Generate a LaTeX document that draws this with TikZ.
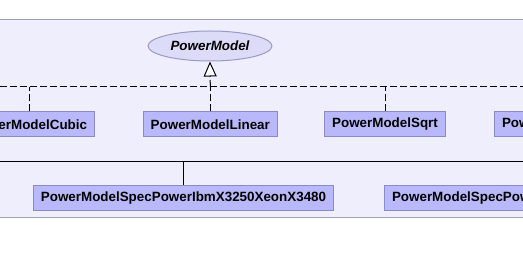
\documentclass[tikz,border=0pt]{standalone}
\usepackage{fontspec}
\setmainfont{Liberation Sans}
\usetikzlibrary{shapes.geometric,arrows.meta}

\definecolor{panelfill}{HTML}{EEEEFC}
\definecolor{panelline}{HTML}{A0A0B8}
\definecolor{boxfill}{HTML}{B8B8FA}
\definecolor{boxline}{HTML}{8A8AC8}
\definecolor{ifacefill}{HTML}{DCDCF8}
\definecolor{ifaceline}{HTML}{9A9AC8}

\newcommand{\classfont}{\fontsize{13.4}{16}\selectfont\bfseries}

\tikzset{
  classbox/.style={rectangle, draw=boxline, fill=boxfill, line width=1pt,
    inner xsep=7.5pt, inner ysep=0pt, minimum height=25pt, font=\classfont},
  ifacebox/.style={ellipse, draw=ifaceline, fill=ifacefill, line width=1pt,
    inner sep=0pt, minimum width=124pt, minimum height=30pt,
    font=\classfont\itshape},
  realize/.style={line width=1pt, dash pattern=on 7pt off 3pt},
  extend/.style={line width=1pt},
  implements/.style={-{Triangle[length=15pt,width=13pt,fill=white]}}
}

\begin{document}
\begin{tikzpicture}[x=1pt,y=-1pt]
  \useasboundingbox (0,0) rectangle (523,256);
  \clip (0,0) rectangle (523,256);

  % package panel
  \fill[panelfill] (-10,20) rectangle (540,218);
  \draw[panelline, line width=1pt] (-10,20) -- (540,20);
  \draw[panelline, line width=1pt] (-10,218) -- (540,218);

  % interface and its implementations
  \node[ifacebox] (model) at (210,46) {PowerModel};
  \node[classbox] (cubic) at (29,124.5) {PowerModelCubic};
  \node[classbox] (linear) at (210.3,124.5) {PowerModelLinear};
  \node[classbox] (sqrt) at (385,124.5) {PowerModelSqrt};
  \node[classbox, anchor=west] (square) at (494,124.5) {PowerModelSquare};

  \coordinate (ifaceL) at (-10,87);
  \coordinate (ifaceR) at (700,87);
  \draw[realize] (ifaceL) -- (ifaceR);
  \foreach \Cls in {cubic,linear,sqrt,square}{
    \draw[realize] (\Cls.north) -- (\Cls.north |- ifaceL);
  }
  \draw[realize,implements] (linear.north |- ifaceL) -- (model.south);

  % SpecPower subclasses
  \node[classbox] (ibm) at (183.5,198) {PowerModelSpecPowerIbmX3250XeonX3480};
  \node[classbox, anchor=west] (hp) at (384,198)
    {PowerModelSpecPowerHpProLiantMl110G3PentiumD930};

  \coordinate (extL) at (-10,162);
  \coordinate (extR) at (900,162);
  \draw[extend] (extL) -- (extR);
  \foreach \Cls in {ibm,hp}{
    \draw[extend] (\Cls.north) -- (\Cls.north |- extL);
  }
\end{tikzpicture}
\end{document}
